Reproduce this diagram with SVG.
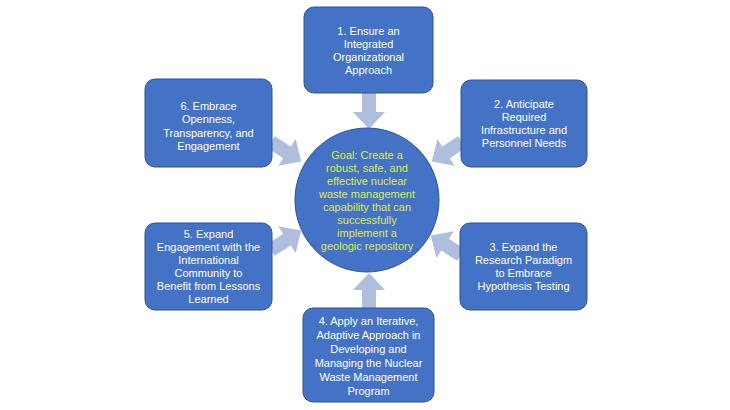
<svg xmlns="http://www.w3.org/2000/svg" width="730" height="410" viewBox="0 0 730 410">
<style>
.box{fill:#4472C4;stroke:#2F528F;stroke-width:1}
.t{font-family:"Liberation Sans",Arial,sans-serif;font-size:11px;fill:#FFFFFF;text-anchor:middle}
.g{font-family:"Liberation Sans",Arial,sans-serif;font-size:11px;fill:#DDEB55;text-anchor:middle}
.arr{fill:#AFBEDD}
</style>
<defs>
<path id="a" d="M0,-7 L19,-7 L19,-16 L36,0 L19,16 L19,7 L0,7 Z"/>
</defs>
<rect width="730" height="410" fill="#FFFFFF"/>
<g id="connectors">
<use href="#a" class="arr" transform="translate(369,93) rotate(90)"/>
<use href="#a" class="arr" transform="translate(369,309) rotate(-90)"/>
<use href="#a" class="arr" transform="translate(271,142) rotate(33)"/>
<use href="#a" class="arr" transform="translate(462,142) rotate(147)"/>
<use href="#a" class="arr" transform="translate(271,250) rotate(-33)"/>
<use href="#a" class="arr" transform="translate(461,255) rotate(-147)"/>
</g>
<g id="goal">
<circle cx="367" cy="200" r="72" class="box"/>
<text class="g"><tspan x="367" y="159">Goal: Create a</tspan><tspan x="367" y="172">robust, safe, and</tspan><tspan x="367" y="185">effective nuclear</tspan><tspan x="367" y="198">waste management</tspan><tspan x="367" y="211">capability that can</tspan><tspan x="367" y="224">successfully</tspan><tspan x="367" y="237">implement a</tspan><tspan x="367" y="250">geologic repository</tspan></text>
</g>
<g id="n1">
<rect x="304" y="7" width="129" height="86" rx="10" class="box"/>
<text class="t"><tspan x="368.5" y="35">1. Ensure an</tspan><tspan x="368.5" y="48">Integrated</tspan><tspan x="368.5" y="61">Organizational</tspan><tspan x="368.5" y="74">Approach</tspan></text>
</g>
<g id="n2">
<rect x="461" y="80" width="126" height="87" rx="10" class="box"/>
<text class="t"><tspan x="524" y="108">2. Anticipate</tspan><tspan x="524" y="121">Required</tspan><tspan x="524" y="134">Infrastructure and</tspan><tspan x="524" y="147">Personnel Needs</tspan></text>
</g>
<g id="n3">
<rect x="460" y="223" width="127" height="87" rx="10" class="box"/>
<text class="t"><tspan x="523.5" y="251">3. Expand the</tspan><tspan x="523.5" y="264">Research Paradigm</tspan><tspan x="523.5" y="277">to Embrace</tspan><tspan x="523.5" y="290">Hypothesis Testing</tspan></text>
</g>
<g id="n4">
<rect x="303" y="308" width="131" height="94" rx="10" class="box"/>
<text class="t"><tspan x="368.5" y="325">4. Apply an Iterative,</tspan><tspan x="368.5" y="339">Adaptive Approach in</tspan><tspan x="368.5" y="353">Developing and</tspan><tspan x="368.5" y="367">Managing the Nuclear</tspan><tspan x="368.5" y="381">Waste Management</tspan><tspan x="368.5" y="395">Program</tspan></text>
</g>
<g id="n5">
<rect x="145" y="223" width="127" height="87" rx="10" class="box"/>
<text class="t"><tspan x="208.5" y="238">5. Expand</tspan><tspan x="208.5" y="251">Engagement with the</tspan><tspan x="208.5" y="264">International</tspan><tspan x="208.5" y="277">Community to</tspan><tspan x="208.5" y="290">Benefit from Lessons</tspan><tspan x="208.5" y="303">Learned</tspan></text>
</g>
<g id="n6">
<rect x="145" y="79" width="127" height="88" rx="10" class="box"/>
<text class="t"><tspan x="208.5" y="110">6. Embrace</tspan><tspan x="208.5" y="123">Openness,</tspan><tspan x="208.5" y="137">Transparency, and</tspan><tspan x="208.5" y="150">Engagement</tspan></text>
</g>
</svg>
